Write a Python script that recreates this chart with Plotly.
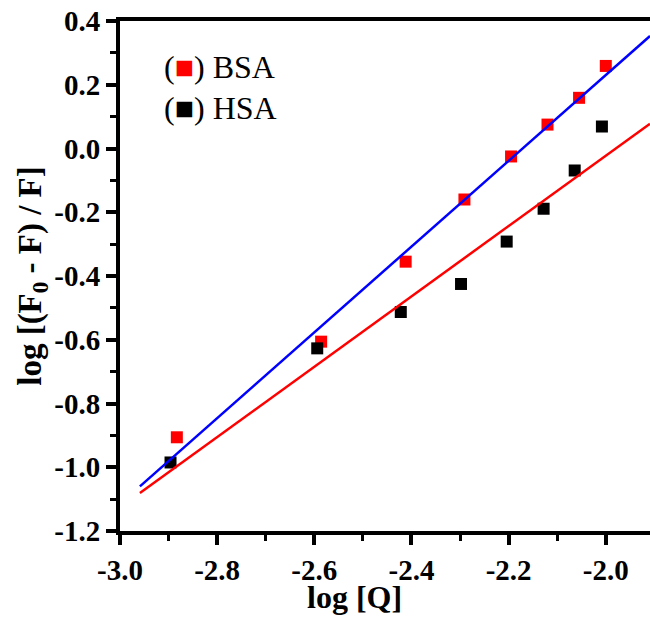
import plotly.graph_objects as go

# Data
bsa_x = [-2.883, -2.586, -2.412, -2.291, -2.195, -2.120, -2.055, -2.000]
bsa_y = [-0.906, -0.606, -0.355, -0.160, -0.025, 0.075, 0.159, 0.259]
hsa_x = [-2.896, -2.594, -2.422, -2.298, -2.204, -2.128, -2.064, -2.008]
hsa_y = [-0.985, -0.627, -0.513, -0.425, -0.292, -0.189, -0.069, 0.069]

# Linear fit lines (endpoints)
fit_x = [-2.959, -1.909]
bsa_fit_y = [-1.060, 0.353]
hsa_fit_y = [-1.081, 0.078]

x_tickvals = [-3.0, -2.8, -2.6, -2.4, -2.2, -2.0]
x_ticktext = ["-3.0", "-2.8", "-2.6", "-2.4", "-2.2", "-2.0"]
y_tickvals = [-1.2, -1.0, -0.8, -0.6, -0.4, -0.2, 0.0, 0.2, 0.4]
y_ticktext = ["-1.2", "-1.0", "-0.8", "-0.6", "-0.4", "-0.2", "0.0", "0.2", "0.4"]

FONT = "Liberation Serif"

fig = go.Figure()
fig.add_trace(go.Scatter(x=bsa_x, y=bsa_y, mode="markers",
                         marker=dict(symbol="square", size=12, color="#ff0000"),
                         showlegend=False))
fig.add_trace(go.Scatter(x=hsa_x, y=hsa_y, mode="markers",
                         marker=dict(symbol="square", size=12, color="#000000"),
                         showlegend=False))
fig.add_trace(go.Scatter(x=fit_x, y=hsa_fit_y, mode="lines",
                         line=dict(color="#ff0000", width=2.5), showlegend=False))
fig.add_trace(go.Scatter(x=fit_x, y=bsa_fit_y, mode="lines",
                         line=dict(color="#0000ff", width=2.5), showlegend=False))

fig.add_annotation(text="(<span style='color:#ff0000'>■</span>) BSA", xref="paper", yref="paper",
                   x=0.079, y=0.910, xanchor="left", yanchor="middle", showarrow=False,
                   font=dict(family=FONT, size=32, color="black", weight="normal"))
fig.add_annotation(text="(<span style='color:#000000'>■</span>) HSA", xref="paper", yref="paper",
                   x=0.079, y=0.829, xanchor="left", yanchor="middle", showarrow=False,
                   font=dict(family=FONT, size=32, color="black", weight="normal"))

# x-axis title (centred where the reference puts it)
fig.add_annotation(text="<b>log [Q]</b>", xref="paper", yref="bottom" if False else "paper",
                   x=0.443, y=-0.168, xanchor="center", yanchor="bottom", showarrow=False,
                   font=dict(family=FONT, size=32, color="black"))

axis_common = dict(showgrid=False, zeroline=False, showline=True, linecolor="black",
                   linewidth=4, ticks="outside", ticklen=10, tickwidth=4, tickcolor="black",
                   tickfont=dict(family=FONT, size=29, color="black", weight="bold"))

fig.update_xaxes(range=[-3.0, -1.909], tickvals=x_tickvals, ticktext=x_ticktext,
                 mirror=True,
                 minor=dict(dtick=0.1, tick0=-3.0, ticks="outside", ticklen=6, tickwidth=3, tickcolor="black"),
                 **axis_common)
fig.update_yaxes(range=[-1.2, 0.4], tickvals=y_tickvals, ticktext=y_ticktext,
                 minor=dict(dtick=0.1, tick0=-1.2, ticks="outside", ticklen=6, tickwidth=3, tickcolor="black"),
                 title=dict(text="<b>log [(F<sub>0</sub> - F) / F]</b>", font=dict(family=FONT, size=33, color="black"), standoff=4),
                 **axis_common)

fig.update_layout(width=650, height=617, margin=dict(l=120, r=0, t=21, b=86),
                  font=dict(family=FONT, size=29, color="black"),
                  plot_bgcolor="white", paper_bgcolor="white")

fig.write_html("out.html")
